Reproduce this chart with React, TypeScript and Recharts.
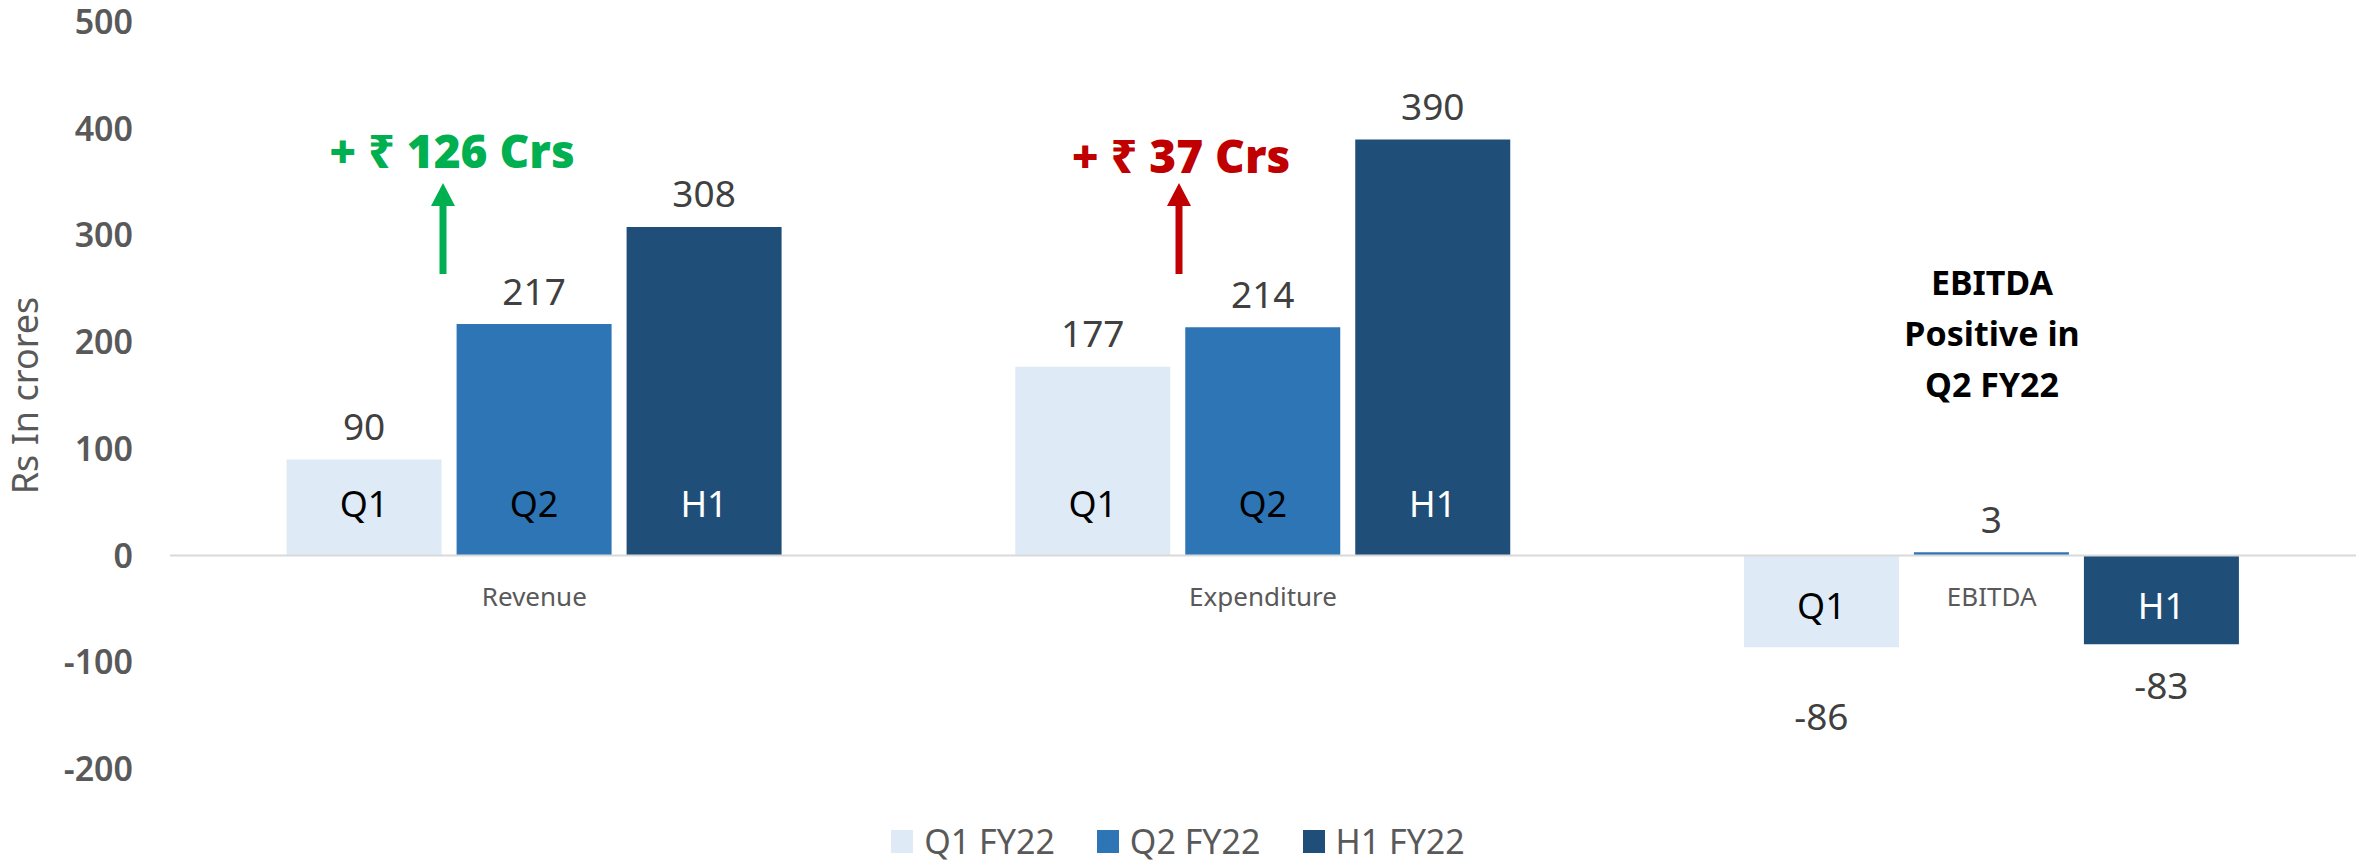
import React from 'react';
import { BarChart, Bar, XAxis, YAxis, ReferenceLine, LabelList, Legend } from 'recharts';

const categories = ['Revenue', 'Expenditure', 'EBITDA'];
const q1Values = [90, 177, -86];
const q2Values = [217, 214, 3];
const h1Values = [308, 390, -83];
const seriesNames = ['Q1 FY22', 'Q2 FY22', 'H1 FY22'];
const innerLabels = ['Q1', 'Q2', 'H1'];
const yTicks = [-200, -100, 0, 100, 200, 300, 400, 500];

const colors = ['#DEEAF6', '#2E75B6', '#1F4E79'];
const innerColors = ['#000000', '#000000', '#FFFFFF'];
const negLabelOffsets = [68, 0, 40];

const data = categories.map((c, i) => ({ category: c, q1: q1Values[i], q2: q2Values[i], h1: h1Values[i] }));

const FONT = '"Noto Sans", "Open Sans", sans-serif';
const HEAVY = '"Open Sans", "Noto Sans", sans-serif';

const makeValueLabel = (si: number) => (props: any) => {
  const { x, y, width, height, value } = props;
  const top = Math.min(y, y + height);
  const bottom = Math.max(y, y + height);
  const cx = x + width / 2;
  const ty = value >= 0 ? top - 34 : bottom + negLabelOffsets[si];
  return (
    <text x={cx} y={ty} textAnchor="middle" dominantBaseline="central" fill="#404040" fontSize={37} fontFamily={FONT}>
      {value}
    </text>
  );
};

const makeInnerLabel = (si: number) => (props: any) => {
  const { x, y, width, height, value } = props;
  const top = Math.min(y, y + height);
  const bottom = Math.max(y, y + height);
  if (bottom - top < 60) return null;
  const cx = x + width / 2;
  const ty = value >= 0 ? bottom - 52 : top + 50;
  return (
    <text x={cx} y={ty} textAnchor="middle" dominantBaseline="central" fill={innerColors[si]} fontSize={36} fontFamily={FONT}>
      {innerLabels[si]}
    </text>
  );
};

const CategoryTick = (props: any) => {
  const { x, y, payload } = props;
  return (
    <text x={x} y={y - 181} textAnchor="middle" dominantBaseline="central" fill="#595959" fontSize={26} fontFamily={FONT}>
      {payload.value}
    </text>
  );
};

const YLabel = (props: any) => {
  const vb = props.viewBox || {};
  const cy = (vb.y ?? 22) + (vb.height ?? 747) / 2;
  return (
    <text x={24} y={cy} transform={`rotate(-90, 24, ${cy})`} textAnchor="middle" dominantBaseline="central" fill="#595959" fontSize={36} fontFamily={FONT}>
      Rs  In crores
    </text>
  );
};

const LegendContent = () => (
  <div style={{ display: 'flex', justifyContent: 'center', alignItems: 'center', height: 52, fontFamily: FONT, paddingTop: 6 }}>
    {seriesNames.map((n, i) => (
      <div key={n} style={{ display: 'flex', alignItems: 'center', marginRight: i < 2 ? 42 : 0 }}>
        <div style={{ width: 22, height: 23, background: colors[i], marginRight: 11 }} />
        <span style={{ color: '#595959', fontSize: 34, lineHeight: '40px' }}>{n}</span>
      </div>
    ))}
  </div>
);

const Arrow = ({ x, y1, y2, color }: { x: number; y1: number; y2: number; color: string }) => (
  <g>
    <line x1={x} y1={y1} x2={x} y2={y2 + 20} stroke={color} strokeWidth={7} />
    <polygon points={`${x - 12},${y2 + 23} ${x + 12},${y2 + 23} ${x},${y2}`} fill={color} />
  </g>
);

export default function App() {
  return (
    <div style={{ position: 'absolute', left: 0, top: 0, width: 2356, height: 861, background: '#fff' }}>
      <BarChart
        width={2356}
        height={861}
        data={data}
        margin={{ top: 22, right: 0, bottom: 0, left: 0 }}
        barCategoryGap="16%"
        barGap={15}
        style={{ fontFamily: FONT }}
      >
        <XAxis
          dataKey="category"
          axisLine={false}
          tickLine={false}
          height={40}
          tick={<CategoryTick />}
          interval={0}
        />
        <YAxis
          domain={[-200, 500]}
          ticks={yTicks}
          axisLine={false}
          tickLine={false}
          tickSize={0}
          tickMargin={37}
          width={170}
          tick={{ fill: '#595959', fontSize: 34, fontWeight: 600, fontFamily: FONT }}
          label={<YLabel />}
        />
        <Legend verticalAlign="bottom" height={52} content={<LegendContent />} />
        <ReferenceLine y={0} stroke="#D9D9D9" strokeWidth={2} />
        {(['q1', 'q2', 'h1'] as const).map((k, si) => (
          <Bar key={k} dataKey={k} name={seriesNames[si]} fill={colors[si]} isAnimationActive={false}>
            <LabelList dataKey={k} content={makeValueLabel(si)} />
            <LabelList dataKey={k} content={makeInnerLabel(si)} />
          </Bar>
        ))}
        <text x={452} y={168} textAnchor="middle" fill="#00B050" fontSize={46} fontWeight={800} fontFamily={HEAVY}>
          + ₹ 126 Crs
        </text>
        <Arrow x={443} y1={274} y2={183} color="#00B050" />
        <text x={1181} y={173} textAnchor="middle" fill="#C00000" fontSize={46} fontWeight={800} fontFamily={HEAVY}>
          + ₹ 37 Crs
        </text>
        <Arrow x={1179} y1={274} y2={183} color="#C00000" />
        <text textAnchor="middle" fill="#000" fontSize={34} fontWeight={700} fontFamily={FONT}>
          <tspan x={1992} y={295}>EBITDA</tspan>
          <tspan x={1992} y={346}>Positive in</tspan>
          <tspan x={1992} y={397}>Q2 FY22</tspan>
        </text>
      </BarChart>
    </div>
  );
}
